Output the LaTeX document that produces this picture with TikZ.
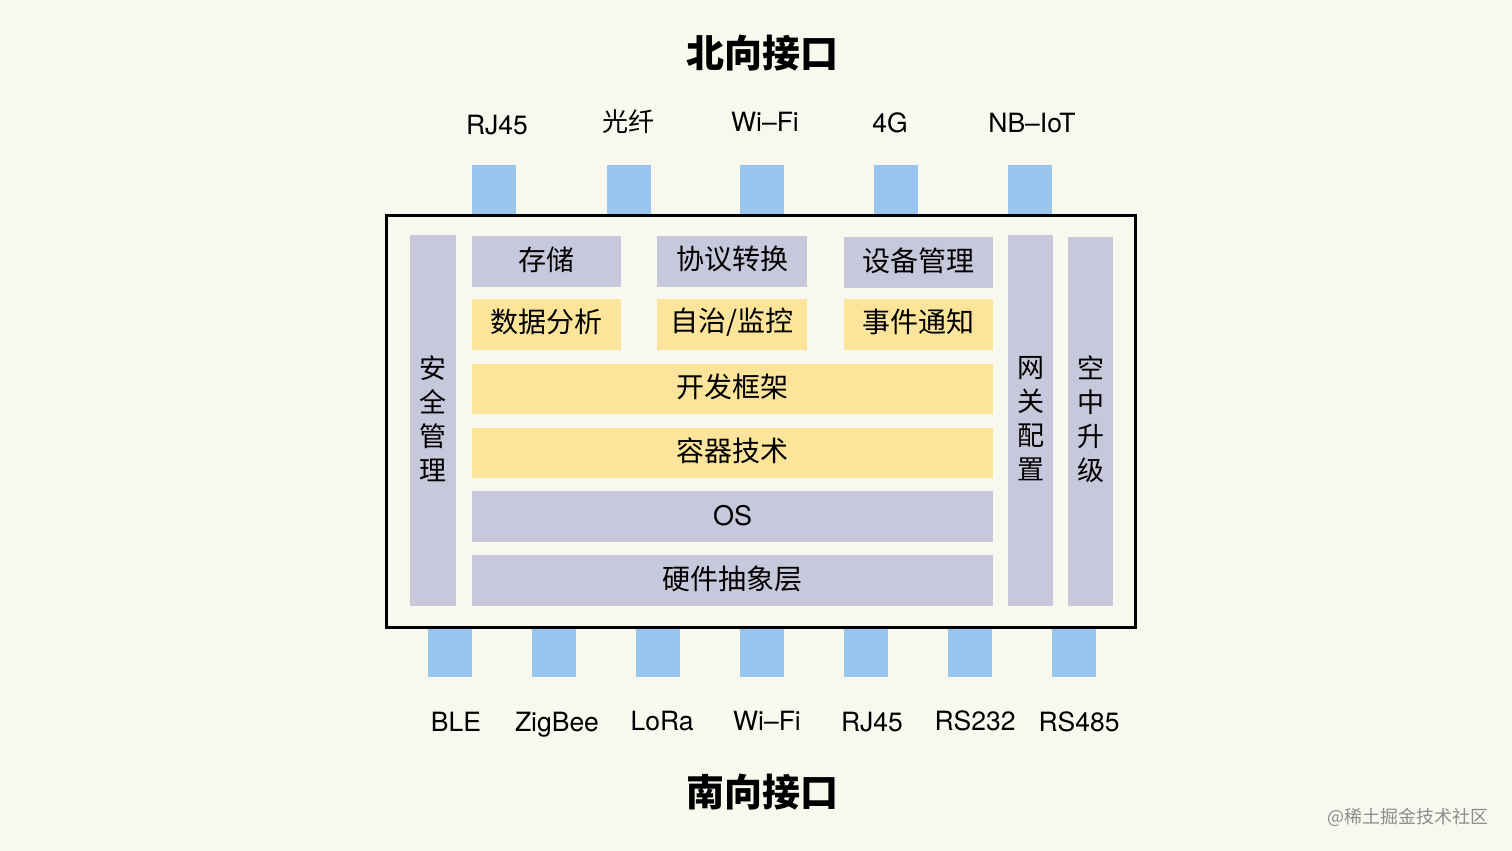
\documentclass[tikz,border=0pt]{standalone}
\usepackage{fontspec}
\setmainfont{TeX Gyre Heros}
\newfontfamily\cjk{Noto Sans CJK SC}
\definecolor{bgc}{HTML}{F8F8EF}
\definecolor{portc}{HTML}{99C6EF}
\definecolor{greyc}{HTML}{C8C8DC}
\definecolor{yelc}{HTML}{FCE49A}
\begin{document}
\begin{tikzpicture}[x=1pt,y=-1pt,
  port/.style={fill=portc,draw=none},
  gbox/.style={fill=greyc,draw=none},
  ybox/.style={fill=yelc,draw=none},
  lbl/.style={font=\fontsize{28}{28}\selectfont\cjk,text=black},
  plbl/.style={font=\fontsize{26.5}{26.5}\selectfont,text=black},
  blbl/.style={font=\fontsize{26.5}{26.5}\selectfont,text=black,anchor=base,inner sep=0pt},
  vlbl/.style={font=\fontsize{27}{34}\selectfont\cjk,align=center,text=black,inner sep=0pt},
  ttl/.style={font=\fontsize{38}{38}\selectfont\cjk\bfseries,text=black}]
\fill[bgc] (0,0) rectangle (1512,851);
\useasboundingbox (0,0) rectangle (1512,851);
% titles
\node[ttl] (tn) at (762,53) {北向接口};
\node[ttl] (ts) at (762,792) {南向接口};
% frame
\draw[line width=3pt] (386,215) rectangle (1135,627);
% top ports
\foreach \x in {494,629,762,896,1030}{
  \fill[port] (\x-22,165) rectangle (\x+22,213.5);
}
\node[blbl] (lt1) at (497,134) {RJ45};
\node[lbl,font=\fontsize{26}{26}\selectfont\cjk] (lt2) at (628,122) {光纤};
\node[blbl] (lt3) at (765,131) {Wi–Fi};
\node[blbl] (lt4) at (890,132) {4G};
\node[blbl] (lt5) at (1032,132) {NB–IoT};
% bottom ports
\foreach \x in {450,554,658,762,866,970,1074}{
  \fill[port] (\x-22,628.5) rectangle (\x+22,677);
}
\node[blbl] (lb1) at (456,731) {BLE};
\node[blbl] (lb2) at (557,731) {ZigBee};
\node[blbl] (lb3) at (662,730) {LoRa};
\node[blbl] (lb4) at (767,730) {Wi–Fi};
\node[blbl] (lb5) at (872,731) {RJ45};
\node[blbl] (lb6) at (975,730) {RS232};
\node[blbl] (lb7) at (1079,731) {RS485};
% side columns
\fill[gbox] (410,235) rectangle (456,606);
\node[vlbl] (aq) at (433,419) {安\\全\\管\\理};
\fill[gbox] (1008,235) rectangle (1053,606);
\node[vlbl] (wg) at (1031,419) {网\\关\\配\\置};
\fill[gbox] (1068,237) rectangle (1113,606);
\node[vlbl] (kz) at (1091,419) {空\\中\\升\\级};
% top row
\fill[gbox] (472,236) rectangle (621,287);
\node[lbl] (cc) at (546.5,260) {存储};
\fill[gbox] (657,236) rectangle (807,287);
\node[lbl] (xy) at (732,259) {协议转换};
\fill[gbox] (844,237) rectangle (993,288);
\node[lbl] (sb) at (918.5,261) {设备管理};
% second row
\fill[ybox] (472,299) rectangle (621,350);
\node[lbl] (sj) at (546.5,322) {数据分析};
\fill[ybox] (657,299) rectangle (807,350);
\node[lbl] (zz) at (732,322) {自治/监控};
\fill[ybox] (844,299) rectangle (993,350);
\node[lbl] (sj2) at (918.5,322) {事件通知};
% wide layers
\fill[ybox] (472,364) rectangle (993,414);
\node[lbl] (kf) at (732.5,387) {开发框架};
\fill[ybox] (472,428) rectangle (993,478);
\node[lbl] (rq) at (732.5,451) {容器技术};
\fill[gbox] (472,491) rectangle (993,542);
\node[plbl,font=\fontsize{27}{27}\selectfont] (os) at (732.5,516) {OS};
\fill[gbox] (472,555) rectangle (993,606);
\node[lbl] (yj) at (732.5,579) {硬件抽象层};
% watermark
\node[font=\fontsize{18}{18}\selectfont\cjk,text=black!45] (wm) at (1408,817) {@稀土掘金技术社区};
\end{tikzpicture}
\end{document}
